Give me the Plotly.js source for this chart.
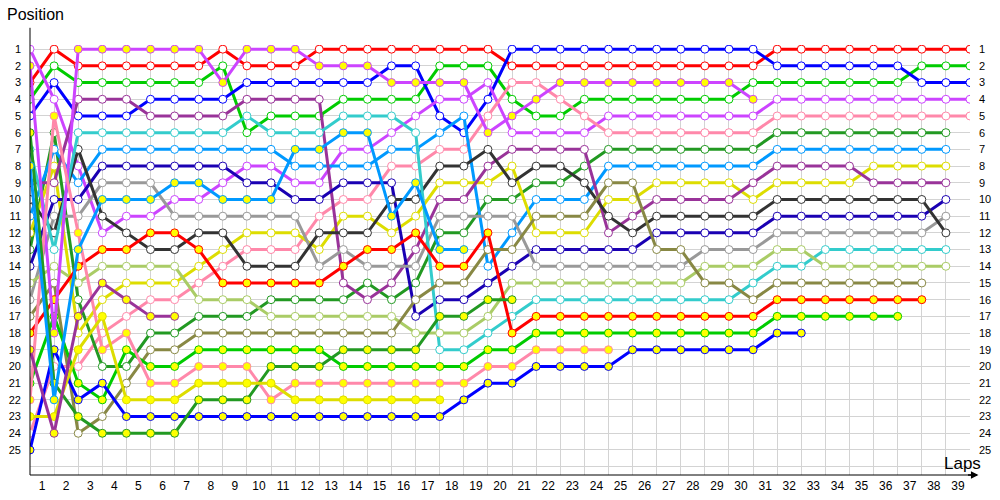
<!DOCTYPE html>
<html>
<head>
<meta charset="utf-8">
<script src="https://cdn.plot.ly/plotly-3.0.1.min.js"></script>
<style>html,body{margin:0;padding:0;background:#fff;}#chart{width:1000px;height:500px;}</style>
</head>
<body>
<div id="chart"></div>
<script>
// Lap columns (0 = grid)
const laps = [0,1,2,3,4,5,6,7,8,9,10,11,12,13,14,15,16,17,18,19,20,21,22,23,24,25,26,27,28,29,30,31,32,33,34,35,36,37,38,39];
const lapLabels = ['1','2','3','4','5','6','7','8','9','10','11','12','13','14','15','16','17','18','19','20','21','22','23','24','25','26','27','28','29','30','31','32','33','34','35','36','37','38','39'];
const positionLabels = ['1','2','3','4','5','6','7','8','9','10','11','12','13','14','15','16','17','18','19','20','21','22','23','24','25'];

// Position per lap for each car (colour-coded series)
const red1    = [3,1,2,2,2,2,2,2,1,2,2,2,1,1,1,1,1,1,1,1,2,2,2,2,2,2,2,2,2,2,2,1,1,1,1,1,1,1,1,1];
const green1  = [4,2,3,3,3,3,3,3,2,6,5,5,5,4,4,4,4,2,2,2,4,5,5,4,4,4,4,4,4,4,3,3,3,3,3,3,3,2,2,2];
const blue1   = [5,3,5,5,5,4,4,4,4,3,3,3,3,3,3,2,2,5,6,4,1,1,1,1,1,1,1,1,1,1,1,2,2,2,2,2,2,3,3,3];
const violet1 = [1,4,8,12,11,11,10,10,9,8,8,9,9,7,7,6,5,4,4,3,6,6,6,6,5,5,5,5,5,5,5,4,4,4,4,4,4,4,4,4];
const pink1   = [24,20,20,18,17,16,16,15,14,13,13,13,11,10,10,8,8,7,7,5,3,3,4,5,6,6,6,6,6,6,6,5,5,5,5,5,5,5,5,5];
const dkgreen1= [13,6,16,20,20,18,18,17,17,17,16,16,16,16,15,16,15,12,12,10,10,9,9,8,7,7,7,7,7,7,7,6,6,6,6,6,6,6,6];
const ltblue1 = [11,7,9,7,7,7,7,7,7,7,7,8,8,8,8,7,7,6,5,14,12,10,10,10,8,8,8,8,8,8,8,7,7,7,7,7,7,7,7];
const yellow1 = [12,8,18,16,15,15,15,14,13,12,12,12,13,11,11,12,11,9,9,9,8,12,12,12,10,10,9,9,9,9,10,9,9,9,9,8,8,8,8];
const purple1 = [9,9,4,4,4,5,5,5,5,4,4,4,4,15,16,15,13,10,10,8,7,7,7,7,12,11,10,10,10,10,9,8,8,8,8,9,9,9,9];
const navy1   = [14,10,10,8,8,8,8,8,8,9,9,10,10,9,9,9,17,16,16,15,14,13,13,13,13,13,12,12,12,12,12,11,11,11,11,11,11,11,10];
const gray1   = [16,11,11,9,9,9,11,11,11,11,11,11,14,13,14,14,14,11,11,11,11,14,14,14,14,14,14,14,13,13,13,12,12,12,12,12,12,12,11];
const black1  = [10,12,7,11,12,13,13,12,12,14,14,14,12,12,12,10,10,8,8,7,9,8,8,9,11,12,11,11,11,11,11,10,10,10,10,10,10,10,12];
const cyan1   = [7,13,6,6,6,6,6,6,6,5,6,6,6,5,5,5,6,19,19,18,17,16,16,16,16,16,16,16,16,16,15,14,14,13,13,13,13,13,13];
const ltgreen1= [15,14,15,14,14,14,14,16,16,16,17,17,17,17,17,17,18,18,18,17,15,15,15,15,15,15,15,15,14,14,14,13,13,14,14,14,14,14,14];
const olive1  = [17,15,24,23,21,19,19,18,18,18,18,18,18,18,18,18,16,15,15,13,13,11,11,11,9,9,13,13,15,15,16,15,15,15,15,15,15,15];
const red2    = [18,16,14,13,13,12,12,13,15,15,15,15,15,14,13,13,12,14,14,12,18,17,17,17,17,17,17,17,17,17,17,16,16,16,16,16,16,16];
const green2  = [21,17,21,22,19,20,20,19,19,19,19,19,19,20,20,20,20,20,20,19,19,18,18,18,18,18,18,18,18,18,18,17,17,17,17,17,17];
const blue2   = [25,19,22,21,23,23,23,23,23,23,23,23,23,23,23,23,23,23,22,21,21,20,20,20,20,19,19,19,19,19,19,18,18];
const violet2 = [2,18,1,1,1,1,1,1,3,1,1,1,2,2,2,3,3,3,3,6,5,4,3,3,3,3,3,3,3,3,4];
const pink2   = [22,5,12,19,18,21,21,20,20,20,22,21,21,21,21,21,21,21,21,20,20,19,19,19,19];
const dkgreen2= [6,21,23,24,24,24,24,22,22,22,20,20,20,19,19,19,19,17,17,16,16];
const ltblue2 = [8,22,13,10,10,10,9,9,10,10,10,7,7,6,6,11,9,13,13];
const yellow2 = [23,23,19,17,22,22,22,21,21,21,21,22,22,22,22,22,22,22];
const purple2 = [19,24,17,15,16,17,17];

const C = {red:'#ff0000', green:'#00cc00', blue:'#0000ff', violet:'#cc44ff', pink:'#ff88aa',
  dkgreen:'#229922', ltblue:'#0099ff', yellow:'#dddd00', purple:'#993399', navy:'#1a00b3',
  gray:'#999999', black:'#333333', cyan:'#33cccc', ltgreen:'#aacc66', olive:'#888844'};

const series = [
  [red1,C.red,false],[green1,C.green,false],[blue1,C.blue,false],[violet1,C.violet,false],
  [pink1,C.pink,false],[dkgreen1,C.dkgreen,false],[ltblue1,C.ltblue,false],[yellow1,C.yellow,false],
  [purple1,C.purple,false],[navy1,C.navy,false],[gray1,C.gray,false],[black1,C.black,false],
  [cyan1,C.cyan,false],[ltgreen1,C.ltgreen,false],[olive1,C.olive,false],
  [red2,C.red,true],[green2,C.green,true],[blue2,C.blue,true],[violet2,C.violet,true],
  [pink2,C.pink,true],[dkgreen2,C.dkgreen,true],[ltblue2,C.ltblue,true],[yellow2,C.yellow,true],
  [purple2,C.purple,true]
];

const traces = series.map(([vals,col,filled]) => ({
  type:'scatter', mode:'lines+markers',
  x: laps.slice(0, vals.length), y: vals,
  line:{color:col, width:3},
  marker:{size:8, color: filled ? '#ffff00' : '#ffffff', line:{color:col, width:1}},
  hoverinfo:'skip', showlegend:false
}));
// empty traces to create the label-only overlay axes
traces.push({type:'scatter', x:[], y:[], xaxis:'x2', yaxis:'y2', showlegend:false, hoverinfo:'skip'});

const font = {family:'Liberation Sans, Arial, sans-serif', size:12, color:'#000'};
const yTicks = positionLabels.map(Number).concat([26]);

const layout = {
  width:1000, height:500,
  margin:{l:30, r:30, t:45, b:25, pad:0},
  paper_bgcolor:'#fff', plot_bgcolor:'#fff',
  font: font,
  showlegend:false,
  xaxis:{range:[0,39], tickmode:'linear', tick0:0, dtick:1, showticklabels:false,
    showgrid:true, gridcolor:'#d3d3d3', gridwidth:1, zeroline:false, showline:false, ticks:'', fixedrange:true},
  xaxis2:{overlaying:'x', anchor:'y', side:'bottom', range:[0,39],
    tickmode:'array', tickvals: lapLabels.map(v => Number(v) - 0.5), ticktext: lapLabels,
    showgrid:false, zeroline:false, showline:false, ticks:'', ticklabelstandoff:2,
    tickfont:{family:font.family, size:12, color:'#000'}, fixedrange:true},
  yaxis:{range:[26.5,0.75], tickmode:'array', tickvals:yTicks, ticktext:positionLabels.concat(['']),
    showgrid:true, gridcolor:'#d3d3d3', gridwidth:1, zeroline:false, showline:false, ticks:'',
    ticklabelstandoff:8, tickfont:{family:font.family, size:11, color:'#000'}, fixedrange:true},
  yaxis2:{overlaying:'y', anchor:'x', side:'right', range:[26.5,0.75], tickmode:'array',
    tickvals:positionLabels.map(Number), ticktext:positionLabels,
    showgrid:false, zeroline:false, showline:false, ticks:'', ticklabelstandoff:8,
    tickfont:{family:font.family, size:11, color:'#000'}, fixedrange:true},
  shapes:[
    {type:'line', xref:'paper', yref:'paper', x0:0, x1:0, y0:0, y1:1.04, line:{color:'#000', width:1}},
    {type:'line', xref:'paper', yref:'paper', x0:0, x1:1.0075, y0:0, y1:0, line:{color:'#000', width:1}}
  ],
  annotations:[
    {xref:'paper', yref:'paper', x:1.009, y:0, ax:-12, ay:0, text:'', showarrow:true,
      arrowhead:2, arrowsize:1, arrowwidth:1.5, arrowcolor:'#000'},
    {xref:'paper', yref:'paper', x:-0.027, y:1.072, xanchor:'left', yanchor:'middle', showarrow:false,
      text:'Position', font:{family:font.family, size:16, color:'#000'}},
    {xref:'paper', yref:'paper', x:0.992, y:0.026, xanchor:'center', yanchor:'middle', showarrow:false,
      text:'Laps', font:{family:font.family, size:17, color:'#000'}}
  ]
};

Plotly.newPlot('chart', traces, layout, {staticPlot:true, displayModeBar:false});
</script>
</body>
</html>
